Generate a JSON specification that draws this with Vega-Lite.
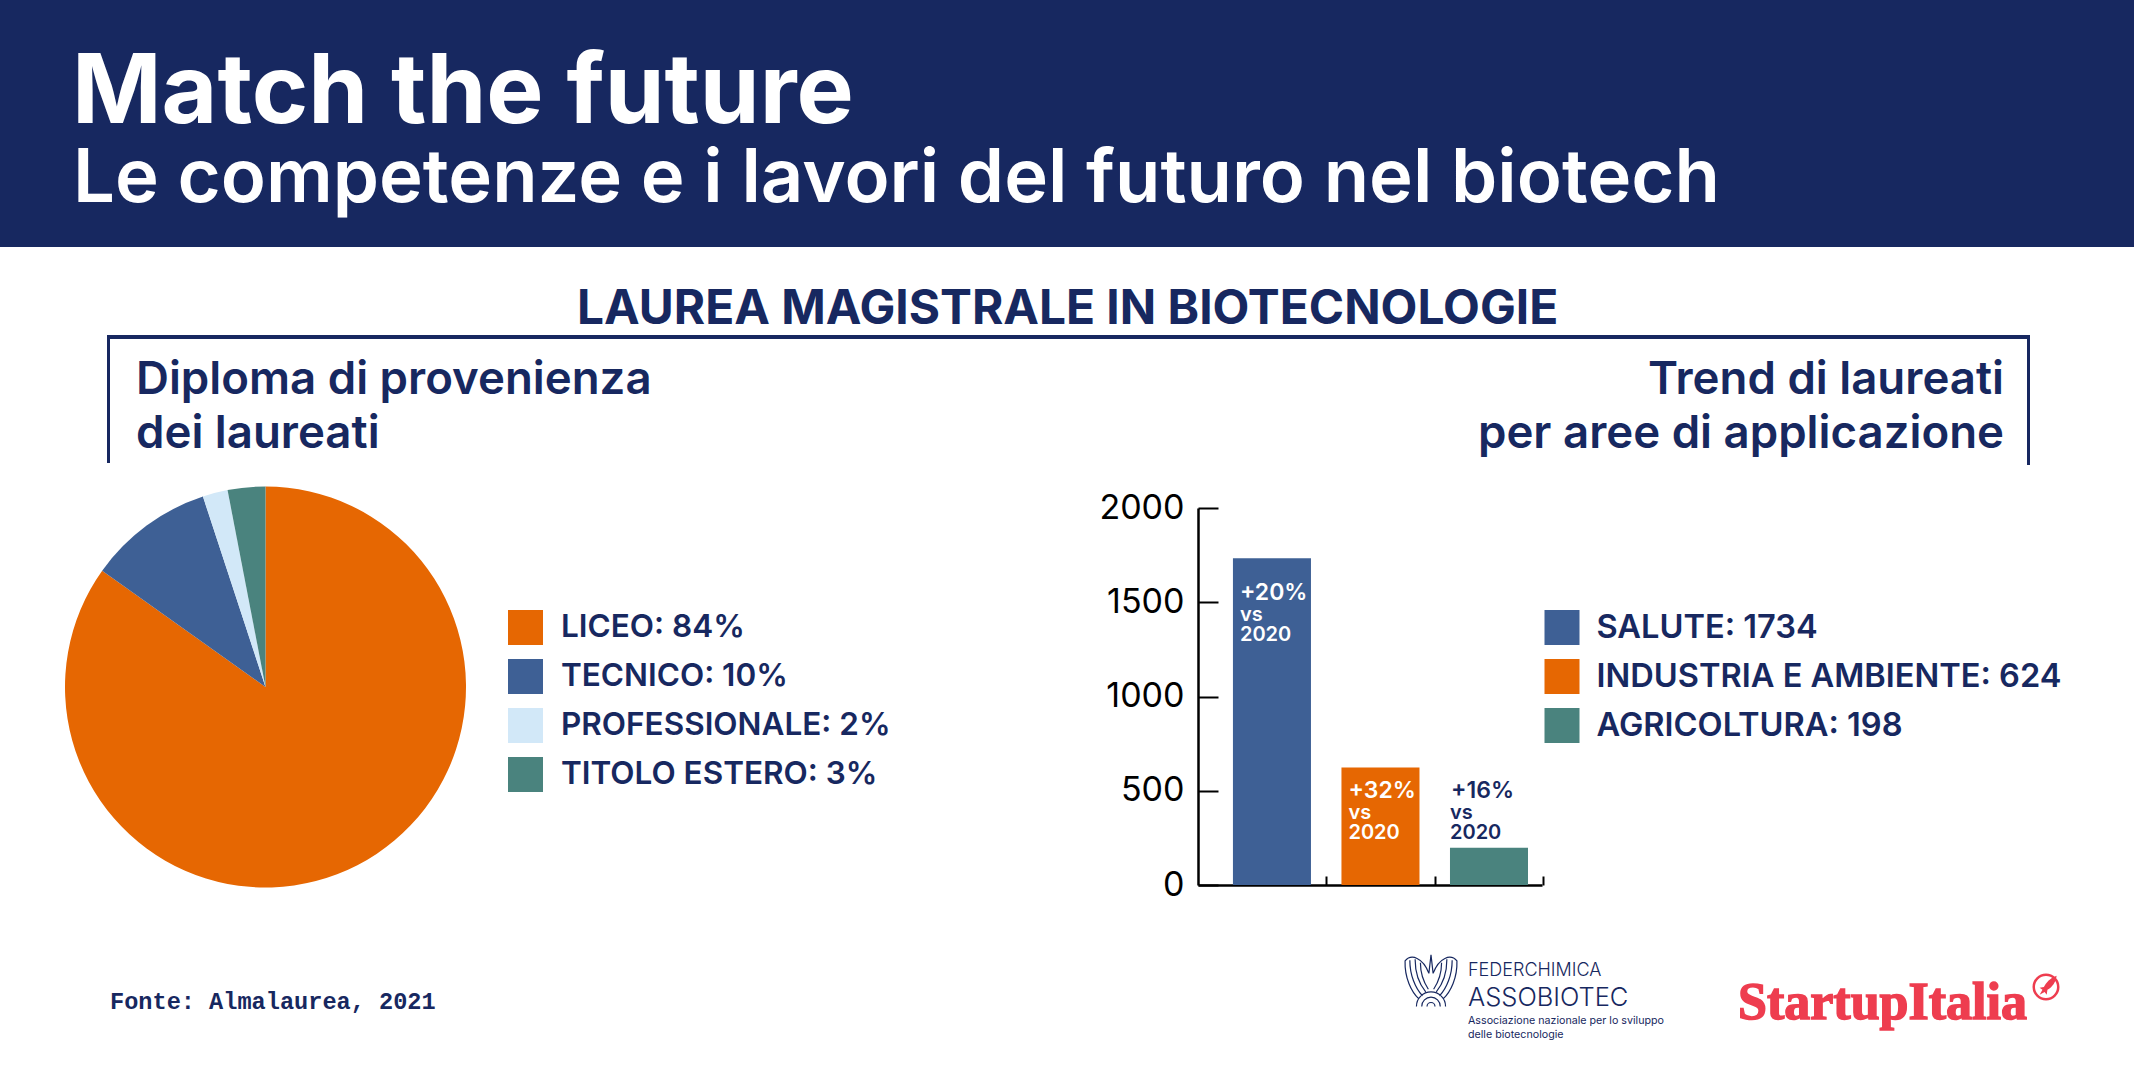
{
"$schema":"https://vega.github.io/schema/vega-lite/v6.json",
"width":2134,"height":1068,"padding":0,"autosize":{"type":"none"},"background":"#ffffff",
"config":{"view":{"stroke":null},"text":{"font":"Inter"}},
"resolve":{"scale":{"x":"independent","y":"independent","color":"independent","theta":"independent"},"axis":{"x":"independent","y":"independent"},"legend":{"color":"independent"}},
"layer":[
{"data":{"values":[{"parte":"testata"}]},"mark":{"type":"rect","color":"#172860"},"encoding":{"x":{"value":0},"x2":{"value":2134},"y":{"value":0},"y2":{"value":247}}},
{"data":{"values":[{"t":"Match the future"}]},"mark":{"type":"text","align":"left","baseline":"alphabetic","fontSize":96.2,"fontWeight":700,"color":"#ffffff","font":"Inter"},"encoding":{"text":{"field":"t"},"x":{"value":72},"y":{"value":123}}},
{"data":{"values":[{"t":"Le competenze e i lavori del futuro nel biotech"}]},"mark":{"type":"text","align":"left","baseline":"alphabetic","fontSize":74.2,"fontWeight":600,"color":"#ffffff","font":"Inter"},"encoding":{"text":{"field":"t"},"x":{"value":73},"y":{"value":202}}},
{"data":{"values":[{"t":"LAUREA MAGISTRALE IN BIOTECNOLOGIE"}]},"mark":{"type":"text","align":"left","baseline":"alphabetic","fontSize":47.8,"fontWeight":700,"color":"#172860","font":"Inter"},"encoding":{"text":{"field":"t"},"x":{"value":577},"y":{"value":324}}},
{"data":{"values":[{"t":"Diploma di provenienza"}]},"mark":{"type":"text","align":"left","baseline":"alphabetic","fontSize":45.6,"fontWeight":600,"color":"#172860","font":"Inter"},"encoding":{"text":{"field":"t"},"x":{"value":136},"y":{"value":394}}},
{"data":{"values":[{"t":"dei laureati"}]},"mark":{"type":"text","align":"left","baseline":"alphabetic","fontSize":45.6,"fontWeight":600,"color":"#172860","font":"Inter"},"encoding":{"text":{"field":"t"},"x":{"value":136},"y":{"value":448}}},
{"data":{"values":[{"t":"Trend di laureati"}]},"mark":{"type":"text","align":"right","baseline":"alphabetic","fontSize":45.6,"fontWeight":600,"color":"#172860","font":"Inter"},"encoding":{"text":{"field":"t"},"x":{"value":2004},"y":{"value":394}}},
{"data":{"values":[{"t":"per aree di applicazione"}]},"mark":{"type":"text","align":"right","baseline":"alphabetic","fontSize":45.6,"fontWeight":600,"color":"#172860","font":"Inter"},"encoding":{"text":{"field":"t"},"x":{"value":2004},"y":{"value":448}}},
{"data":{"values":[{"p":"cornice"}]},"mark":{"type":"rule","color":"#172860","strokeWidth":4},"encoding":{"x":{"value":107},"x2":{"value":2030},"y":{"value":337}}},
{"data":{"values":[{"p":"cornice"}]},"mark":{"type":"rule","color":"#172860","strokeWidth":3},"encoding":{"x":{"value":108.5},"y":{"value":337},"y2":{"value":463}}},
{"data":{"values":[{"p":"cornice"}]},"mark":{"type":"rule","color":"#172860","strokeWidth":3},"encoding":{"x":{"value":2028.5},"y":{"value":337},"y2":{"value":465}}},
{"data":{"values":[
{"voce":"LICEO: 84%","quota":84,"ordine":1},
{"voce":"TECNICO: 10%","quota":10,"ordine":2},
{"voce":"PROFESSIONALE: 2%","quota":2,"ordine":3},
{"voce":"TITOLO ESTERO: 3%","quota":3,"ordine":4}]},
"mark":{"type":"arc","outerRadius":200.5},
"encoding":{"x":{"value":265.5},"y":{"value":687},
"theta":{"field":"quota","type":"quantitative","stack":true},
"order":{"field":"ordine","type":"ordinal"},
"color":{"field":"voce","type":"nominal","scale":{"domain":["LICEO: 84%","TECNICO: 10%","PROFESSIONALE: 2%","TITOLO ESTERO: 3%"],"range":["#E66702","#3E6095","#D2E8F8","#4A837E"]},
"legend":{"orient":"none","legendX":508,"legendY":610,"title":null,"symbolType":"square","symbolSize":1225,"symbolStrokeWidth":0,"labelFont":"Inter","labelFontSize":31.5,"labelFontWeight":600,"labelColor":"#172860","labelOffset":18,"rowPadding":14,"labelLimit":700}}}},
{"data":{"values":[
{"area":"SALUTE: 1734","laureati":1734,"variazione":"+20%","rif":"vs","anno":"2020","quota_etichetta":1513,"tono":"chiaro"},
{"area":"INDUSTRIA E AMBIENTE: 624","laureati":624,"variazione":"+32%","rif":"vs","anno":"2020","quota_etichetta":460,"tono":"chiaro"},
{"area":"AGRICOLTURA: 198","laureati":198,"variazione":"+16%","rif":"vs","anno":"2020","quota_etichetta":460,"tono":"scuro"}]},
"encoding":{"x":{"field":"area","type":"nominal","sort":null,"title":null,"scale":{"domain":["SALUTE: 1734","INDUSTRIA E AMBIENTE: 624","AGRICOLTURA: 198"],"range":[1198,1542],"paddingInner":0.281,"paddingOuter":0.2255,"align":0.714},
"axis":{"orient":"bottom","offset":-183,"labels":false,"bandPosition":1.2,"tickSize":-9,"tickWidth":2,"tickColor":"#000000","domainColor":"#000000","domainWidth":2.5,"grid":false,"title":null}}},
"layer":[
{"mark":{"type":"bar"},"encoding":{
"y":{"field":"laureati","type":"quantitative","title":null,"scale":{"domain":[0,2000],"range":[885,508],"nice":false},
"axis":{"orient":"left","offset":-1198,"values":[0,500,1000,1500,2000],"format":"d","grid":false,"title":null,"tickSize":-20,"tickWidth":2,"tickColor":"#000000","domainColor":"#000000","domainWidth":2.5,"labelFont":"Inter","labelFontSize":34,"labelColor":"#000000","labelPadding":34}},
"color":{"field":"area","type":"nominal","scale":{"domain":["SALUTE: 1734","INDUSTRIA E AMBIENTE: 624","AGRICOLTURA: 198"],"range":["#3E6095","#E66702","#4A837E"]},
"legend":{"orient":"none","legendX":1544.5,"legendY":610,"title":null,"symbolType":"square","symbolSize":1225,"symbolStrokeWidth":0,"labelFont":"Inter","labelFontSize":32.6,"labelFontWeight":600,"labelColor":"#172860","labelOffset":17,"rowPadding":14,"labelLimit":700}}}},
{"transform":[{"filter":"datum.tono=='chiaro'"}],"mark":{"type":"text","align":"left","baseline":"alphabetic","dx":7,"fontSize":23,"fontWeight":600,"color":"#ffffff","font":"Inter"},"encoding":{"x":{"field":"area","type":"nominal","bandPosition":0},"y":{"field":"quota_etichetta","type":"quantitative"},"text":{"field":"variazione"}}},
{"transform":[{"filter":"datum.tono=='chiaro'"}],"mark":{"type":"text","align":"left","baseline":"alphabetic","dx":7,"dy":21,"fontSize":20,"fontWeight":600,"color":"#ffffff","font":"Inter"},"encoding":{"x":{"field":"area","type":"nominal","bandPosition":0},"y":{"field":"quota_etichetta","type":"quantitative"},"text":{"field":"rif"}}},
{"transform":[{"filter":"datum.tono=='chiaro'"}],"mark":{"type":"text","align":"left","baseline":"alphabetic","dx":7,"dy":41,"fontSize":20,"fontWeight":600,"color":"#ffffff","font":"Inter"},"encoding":{"x":{"field":"area","type":"nominal","bandPosition":0},"y":{"field":"quota_etichetta","type":"quantitative"},"text":{"field":"anno"}}},
{"transform":[{"filter":"datum.tono=='scuro'"}],"mark":{"type":"text","align":"left","baseline":"alphabetic","dx":1,"fontSize":23,"fontWeight":600,"color":"#172860","font":"Inter"},"encoding":{"x":{"field":"area","type":"nominal","bandPosition":0},"y":{"field":"quota_etichetta","type":"quantitative"},"text":{"field":"variazione"}}},
{"transform":[{"filter":"datum.tono=='scuro'"}],"mark":{"type":"text","align":"left","baseline":"alphabetic","dx":0,"dy":21,"fontSize":20,"fontWeight":600,"color":"#172860","font":"Inter"},"encoding":{"x":{"field":"area","type":"nominal","bandPosition":0},"y":{"field":"quota_etichetta","type":"quantitative"},"text":{"field":"rif"}}},
{"transform":[{"filter":"datum.tono=='scuro'"}],"mark":{"type":"text","align":"left","baseline":"alphabetic","dx":0,"dy":41,"fontSize":20,"fontWeight":600,"color":"#172860","font":"Inter"},"encoding":{"x":{"field":"area","type":"nominal","bandPosition":0},"y":{"field":"quota_etichetta","type":"quantitative"},"text":{"field":"anno"}}}
]},
{"data":{"values":[{"t":"Fonte: Almalaurea, 2021"}]},"mark":{"type":"text","align":"left","baseline":"alphabetic","fontSize":23.6,"fontWeight":700,"color":"#172860","font":"Liberation Mono"},"encoding":{"text":{"field":"t"},"x":{"value":110},"y":{"value":1009}}},
{"data":{"values":[{"t":"FEDERCHIMICA"}]},"mark":{"type":"text","align":"left","baseline":"alphabetic","fontSize":18,"fontWeight":300,"color":"#172860","font":"Inter"},"encoding":{"text":{"field":"t"},"x":{"value":1468},"y":{"value":976}}},
{"data":{"values":[{"t":"ASSOBIOTEC"}]},"mark":{"type":"text","align":"left","baseline":"alphabetic","fontSize":25.5,"fontWeight":300,"color":"#172860","font":"Inter"},"encoding":{"text":{"field":"t"},"x":{"value":1468},"y":{"value":1006}}},
{"data":{"values":[{"t":"Associazione nazionale per lo sviluppo"}]},"mark":{"type":"text","align":"left","baseline":"alphabetic","fontSize":10.7,"color":"#172860","font":"Inter"},"encoding":{"text":{"field":"t"},"x":{"value":1468},"y":{"value":1024}}},
{"data":{"values":[{"t":"delle biotecnologie"}]},"mark":{"type":"text","align":"left","baseline":"alphabetic","fontSize":10.7,"color":"#172860","font":"Inter"},"encoding":{"text":{"field":"t"},"x":{"value":1468},"y":{"value":1038}}},
{"data":{"values":[{"t":"logo"}]},"mark":{"type":"point","filled":false,"size":2800,"strokeWidth":1.2,"color":"#172860","opacity":1,"shape":"M-0.08,-0.25C-0.3,-0.85 -0.75,-1 -0.98,-0.72C-1,-0.1 -0.75,0.45 -0.45,0.72M0.08,-0.25C0.3,-0.85 0.75,-1 0.98,-0.72C1,-0.1 0.75,0.45 0.45,0.72M-0.08,-0.25L0,-0.95L0.08,-0.25M-0.8,-0.75C-0.8,-0.2 -0.6,0.3 -0.32,0.6M-0.6,-0.78C-0.6,-0.3 -0.45,0.15 -0.2,0.45M-0.4,-0.65C-0.4,-0.3 -0.3,0.05 -0.1,0.35M0.8,-0.75C0.8,-0.2 0.6,0.3 0.32,0.6M0.6,-0.78C0.6,-0.3 0.45,0.15 0.2,0.45M0.4,-0.65C0.4,-0.3 0.3,0.05 0.1,0.35M-0.55,1A0.55,0.55 0 0 1 0.55,1M-0.35,1A0.35,0.35 0 0 1 0.35,1M-0.15,1A0.15,0.15 0 0 1 0.15,1"},"encoding":{"x":{"value":1431},"y":{"value":980}}},
{"data":{"values":[{"t":"StartupItalia"}]},"mark":{"type":"text","align":"left","baseline":"alphabetic","fontSize":52,"fontWeight":700,"color":"#EE3D4F","stroke":"#EE3D4F","strokeWidth":1.5,"font":"Liberation Serif"},"encoding":{"text":{"field":"t"},"x":{"value":1738},"y":{"value":1019}}},
{"data":{"values":[{"t":"logo"}]},"mark":{"type":"point","filled":false,"size":600,"strokeWidth":2.5,"color":"#EE3D4F","opacity":1,"shape":"circle"},"encoding":{"x":{"value":2046},"y":{"value":987}}},
{"data":{"values":[{"t":"logo"}]},"mark":{"type":"point","filled":true,"size":800,"color":"#EE3D4F","opacity":1,"shape":"M0.75,-0.8C0.3,-0.65 0,-0.3 -0.15,0L-0.45,0.05L-0.25,0.2L-0.45,0.55L-0.1,0.35L0.05,0.55L0.1,0.2C0.45,0 0.7,-0.35 0.75,-0.8Z"},"encoding":{"x":{"value":2046},"y":{"value":987}}}
]}
